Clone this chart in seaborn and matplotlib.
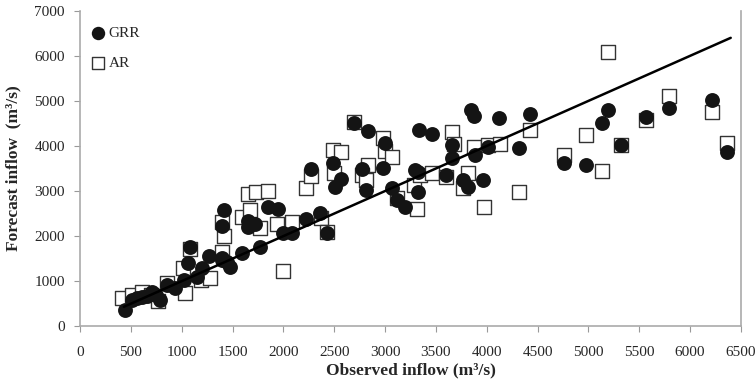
import numpy as np
import pandas as pd
import matplotlib
matplotlib.use('Agg')
import matplotlib.pyplot as plt
import seaborn as sns

# observed / forecast inflow (m3/s)
grr_obs = [440, 510, 560, 610, 660, 710, 750, 790, 855, 935, 1020, 1060, 1080, 1150,
           1200, 1270, 1400, 1400, 1445, 1475, 1400, 1415, 1590, 1650, 1650, 1720,
           1770, 1850, 1950, 2000, 2085, 2220, 2270, 2360, 2430, 2490, 2510, 2570,
           2690, 2830, 2770, 2810, 3000, 2980, 3070, 3120, 3200, 3290, 3320, 3330,
           3460, 3600, 3320, 3660, 3660, 3770, 3820, 3850, 3870, 3880, 3960, 4010,
           4120, 4320, 4430, 4760, 4980, 5130, 5190, 5320, 5570, 5790, 6220, 6360]
grr_fc = [350, 580, 620, 650, 680, 760, 700, 580, 910, 840, 1020, 1400, 1750, 1100,
          1290, 1560, 1470, 1510, 1420, 1310, 2220, 2580, 1620, 2330, 2200, 2270,
          1760, 2640, 2600, 2070, 2070, 2380, 3490, 2510, 2070, 3620, 3090, 3270,
          4510, 4330, 3490, 3020, 4070, 3510, 3070, 2800, 2640, 3470, 2980, 4350,
          4270, 3360, 3420, 4020, 3730, 3240, 3090, 4800, 4670, 3800, 3240, 3980,
          4620, 3960, 4710, 3620, 3580, 4510, 4800, 4020, 4640, 4840, 5020, 3870]

ar_obs = [410, 510, 610, 700, 770, 855, 1010, 1030, 1080, 1190, 1280, 1400, 1415,
          1400, 1590, 1650, 1670, 1730, 1770, 1850, 1940, 2000, 2080, 2220, 2270,
          2370, 2430, 2490, 2500, 2570, 2690, 2830, 2770, 2810, 2980, 3000, 3070,
          3120, 3280, 3310, 3340, 3460, 3600, 3660, 3680, 3770, 3820, 3870, 3970,
          4010, 4130, 4320, 4430, 4760, 4980, 5130, 5190, 5320, 5570, 5790, 6220, 6360]
ar_fc = [620, 690, 760, 700, 560, 950, 1290, 730, 1710, 1020, 1070, 1640, 2000,
         2310, 2420, 2930, 2580, 2980, 2180, 3000, 2270, 1220, 2310, 3070, 3330,
         2400, 2100, 3910, 3400, 3870, 4530, 3580, 3350, 3240, 4180, 3890, 3750,
         2840, 3130, 2600, 3350, 3400, 3300, 4310, 4050, 3070, 3400, 3980, 2640,
         4030, 4040, 2980, 4350, 3800, 4240, 3440, 6090, 4020, 4570, 5110, 4760, 4070]

line_x = [430, 6400]
line_y = [430, 6400]

sns.set_style('white')
plt.rcParams['font.family'] = ['Liberation Serif', 'DejaVu Serif']

fig = plt.figure(figsize=(7.56, 3.86), dpi=100)
ax = fig.add_axes([0.106, 0.155, 0.874, 0.817])

grr = pd.DataFrame({'obs': grr_obs, 'fc': grr_fc})
ar = pd.DataFrame({'obs': ar_obs, 'fc': ar_fc})

sns.scatterplot(data=ar, x='obs', y='fc', marker='s', s=100, color='white',
                edgecolor='#333333', linewidth=1.0, ax=ax, label='AR', zorder=3)
sns.scatterplot(data=grr, x='obs', y='fc', marker='o', s=115, color='#141414',
                edgecolor='#141414', linewidth=0, ax=ax, label='GRR', zorder=4)
sns.lineplot(x=line_x, y=line_y, color='black', linewidth=1.8, ax=ax, zorder=5)

ax.set_xlim(0, 6500)
ax.set_ylim(0, 7000)
ax.set_xticks(np.arange(0, 6501, 500))
ax.set_yticks(np.arange(0, 7001, 1000))
ax.tick_params(axis='both', labelsize=11, direction='out', length=4,
               color='#999999', left=True, bottom=True)
ax.tick_params(axis='x', pad=10)
ax.tick_params(axis='y', pad=7)
for side in ['left', 'bottom', 'right']:
    ax.spines[side].set_color('#aaaaaa')
    ax.spines[side].set_linewidth(1.2)
ax.spines['top'].set_visible(False)

ax.set_xlabel('Observed inflow (m\u00b3/s)', fontsize=12.5, fontweight='bold', labelpad=3)
ax.set_ylabel('Forecast inflow  (m\u00b3/s)', fontsize=12.5, fontweight='bold', labelpad=9)

h, l = ax.get_legend_handles_labels()
ax.legend([h[1], h[0]], [l[1], l[0]], loc='upper left', frameon=False, fontsize=11,
          handletextpad=-0.3, labelspacing=1.1, borderaxespad=0.3, markerscale=0.9,
          bbox_to_anchor=(-0.012, 0.985))

fig.savefig('out.png', dpi=100)
